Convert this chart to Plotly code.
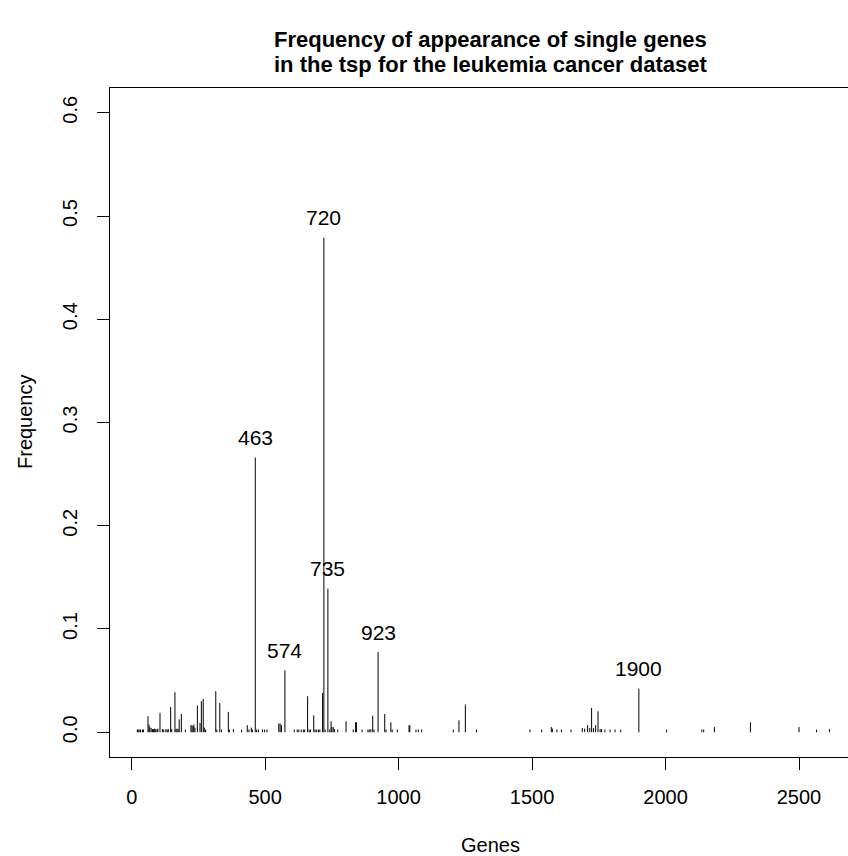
import plotly.graph_objects as go

# Gene index and frequency of appearance
genes = [21, 24, 28, 33, 40, 44, 61, 65, 68, 73, 78, 82, 86, 90, 95, 98, 106, 115, 120, 128,
         133, 137, 146, 150, 162, 166, 170, 174, 178, 186, 201, 222, 226, 230, 233, 237, 246, 256,
         261, 268, 272, 277, 315, 319, 330, 336, 362, 366, 381, 412, 433, 439, 448, 452, 463, 468,
         475, 490, 498, 507, 551, 556, 561, 574, 609, 620, 626, 635, 643, 648, 659, 665, 670, 682,
         687, 693, 700, 705, 715, 720, 725, 735, 742, 747, 750, 755, 760, 772, 803, 830, 839, 842,
         863, 885, 890, 896, 903, 908, 923, 948, 953, 971, 976, 995, 1039, 1042, 1065, 1074, 1086,
         1205, 1226, 1250, 1292, 1492, 1536, 1572, 1576, 1593, 1610, 1646, 1688, 1697, 1708, 1716,
         1723, 1730, 1738, 1747, 1755, 1760, 1773, 1792, 1811, 1832, 1900, 2004, 2136, 2143, 2183,
         2318, 2500, 2566, 2614]
freq = [0.0026, 0.0026, 0.0026, 0.0026, 0.0026, 0.0026, 0.0155, 0.0074, 0.005, 0.004, 0.003,
        0.003, 0.0035, 0.003, 0.003, 0.0035, 0.0187, 0.003, 0.0026, 0.003, 0.0026, 0.003, 0.0245,
        0.003, 0.0387, 0.003, 0.0035, 0.003, 0.0125, 0.0177, 0.0026, 0.0068, 0.0068, 0.0058,
        0.0074, 0.0045, 0.026, 0.009, 0.030, 0.0322, 0.0045, 0.0026, 0.0397, 0.0026, 0.0284,
        0.0026, 0.0197, 0.0026, 0.003, 0.0026, 0.0068, 0.0026, 0.0045, 0.0026, 0.266, 0.0026,
        0.0026, 0.0026, 0.0026, 0.0026, 0.0084, 0.0084, 0.0068, 0.060, 0.0026, 0.0026, 0.0026,
        0.0026, 0.0026, 0.0026, 0.0348, 0.0026, 0.0026, 0.0164, 0.0026, 0.0026, 0.0026, 0.0026,
        0.038, 0.479, 0.0026, 0.139, 0.0026, 0.0106, 0.005, 0.005, 0.003, 0.0026, 0.0106, 0.0026,
        0.0097, 0.0097, 0.0026, 0.0026, 0.0026, 0.003, 0.016, 0.0026, 0.0777, 0.0177, 0.0026,
        0.0097, 0.0026, 0.0026, 0.0068, 0.0068, 0.0026, 0.0026, 0.0026, 0.0026, 0.0116, 0.0268,
        0.0026, 0.0026, 0.0026, 0.005, 0.0035, 0.0026, 0.0026, 0.0026, 0.004, 0.0035, 0.0068,
        0.004, 0.0235, 0.004, 0.0068, 0.0203, 0.003, 0.003, 0.0026, 0.0026, 0.0026, 0.0026,
        0.0423, 0.0026, 0.0026, 0.0026, 0.005, 0.0097, 0.005, 0.0026, 0.003]

labelled_genes = [463, 574, 720, 735, 923, 1900]

x_ticks = [0, 500, 1000, 1500, 2000, 2500]
y_ticks = [0.0, 0.1, 0.2, 0.3, 0.4, 0.5, 0.6]
y_tick_text = ["0.0", "0.1", "0.2", "0.3", "0.4", "0.5", "0.6"]

title_lines = ["Frequency of appearance of single genes",
               "in the tsp for the leukemia cancer dataset"]
x_title = "Genes"
y_title = "Frequency"

FONT = "Liberation Sans, Arial, Helvetica, sans-serif"

L, R, T, B = 110, 0, 88, 99
W, H = 848, 856
pw, ph = W - L - R, H - T - B


def px_to_paper_y(py):
    return (H - B - py) / ph


def px_to_paper_x(px):
    return (px - L) / pw


# histogram-like vertical lines (R type="h")
xs, ys = [], []
for g, f in zip(genes, freq):
    xs += [g, g, None]
    ys += [0, f, None]

fig = go.Figure()
fig.add_trace(go.Scatter(x=xs, y=ys, mode="lines",
                         line=dict(color="black", width=1), hoverinfo="skip",
                         showlegend=False))

freq_map = dict(zip(genes, freq))
for g in labelled_genes:
    fig.add_annotation(x=g, y=freq_map[g], xref="x", yref="y", text=str(g),
                       showarrow=False, yshift=20, yanchor="middle",
                       font=dict(family=FONT, size=21, color="black"))

title_y = [39.5, 64.5]
for t, ty in zip(title_lines, title_y):
    fig.add_annotation(x=px_to_paper_x(490), y=px_to_paper_y(ty), xref="paper", yref="paper",
                       text="<b>" + t + "</b>", showarrow=False,
                       xanchor="center", yanchor="middle", borderpad=0,
                       font=dict(family=FONT, size=22, color="black"))

fig.add_annotation(x=px_to_paper_x(490), y=px_to_paper_y(845), xref="paper", yref="paper",
                   text=x_title, showarrow=False, xanchor="center", yanchor="middle",
                   borderpad=0,
                   font=dict(family=FONT, size=20, color="black"))
fig.add_annotation(x=px_to_paper_x(25), y=px_to_paper_y(422), xref="paper", yref="paper",
                   text=y_title, showarrow=False, xanchor="center", yanchor="middle",
                   textangle=-90, font=dict(family=FONT, size=20, color="black"))

px_per_gene = (799 - 131.7) / 2500
x_lo = -(131.7 - L) / px_per_gene
x_hi = (W - 131.7) / px_per_gene

fig.update_layout(
    width=W, height=H,
    margin=dict(l=L, r=R, t=T, b=B, pad=0),
    paper_bgcolor="white", plot_bgcolor="white",
    font=dict(family=FONT, size=20, color="black"),
    xaxis=dict(range=[x_lo, x_hi], tickvals=x_ticks, ticks="outside", ticklen=12,
               tickwidth=1, tickcolor="black", showgrid=False, zeroline=False,
               showline=True, linecolor="black", linewidth=1, mirror=True,
               ticklabelstandoff=10,
               tickfont=dict(family=FONT, size=20, color="black")),
    yaxis=dict(range=[-0.024, 0.624], tickvals=y_ticks, ticktext=y_tick_text,
               ticks="outside", ticklen=12, tickwidth=1, tickcolor="black",
               showgrid=False, zeroline=False, showline=True, linecolor="black",
               linewidth=1, tickangle=-90, ticklabelstandoff=12,
               tickfont=dict(family=FONT, size=20, color="black")),
)

fig.write_html("out.html")
